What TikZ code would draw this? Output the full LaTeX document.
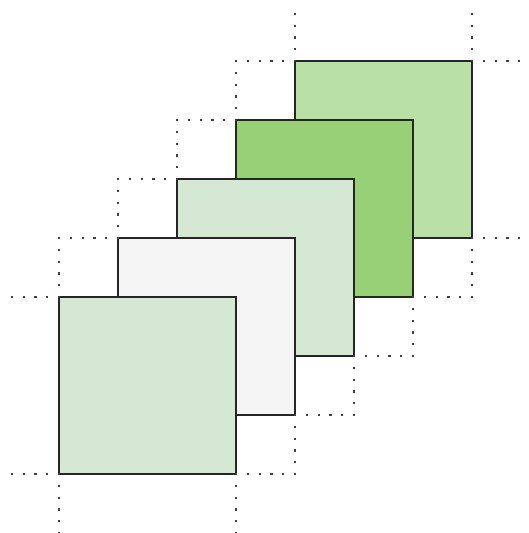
\documentclass[tikz,border=0pt]{standalone}
\usepackage{xcolor}
\usetikzlibrary{calc}

\definecolor{paleGreen}{HTML}{D5E8D4}
\definecolor{paleGray}{HTML}{F5F5F5}
\definecolor{midGreen}{HTML}{97D077}
\definecolor{softGreen}{HTML}{B9E0A5}

\begin{document}
\begin{tikzpicture}[x=1pt, y=-1pt,
    layer/.style={draw=black!85, line width=1.2pt, minimum size=177pt, inner sep=0pt, outer sep=0pt},
    guide/.style={draw=black!75, line width=2.2pt, dash pattern=on 2.2pt off 9.6pt, dash phase=1.1pt}]
  \useasboundingbox (0,0) rectangle (529,533);
  % stacked layers, back to front
  \node[layer, fill=softGreen] (s5) at (383.5,149.5) {};
  \node[layer, fill=midGreen]  (s4) at (324.5,208.5) {};
  \node[layer, fill=paleGreen] (s3) at (265.5,267.5) {};
  \node[layer, fill=paleGray]  (s2) at (206.5,326.5) {};
  \node[layer, fill=paleGreen] (s1) at (147.5,385.5) {};
  % dotted outline
  \draw[guide] (s1.north west) |- (s2.north west) |- (s3.north west) |- (s4.north west) |- (s5.north west);
  \draw[guide] (s5.south east) |- (s4.south east) |- (s3.south east) |- (s2.south east) |- (s1.south east);
  \draw[guide] (s1.north west) -- ++(-51,0);
  \draw[guide] (s5.north west) -- ++(0,-51);
  \draw[guide] (s5.north east) -- ++(0,-51);
  \draw[guide] (s5.north east) -- ++(57,0);
  \draw[guide] (s5.south east) -- ++(57,0);
  \draw[guide] (s1.south west) -- ++(-51,0);
  \draw[guide] (s1.south west) -- ++(0,59);
  \draw[guide] (s1.south east) -- ++(0,59);
\end{tikzpicture}
\end{document}
